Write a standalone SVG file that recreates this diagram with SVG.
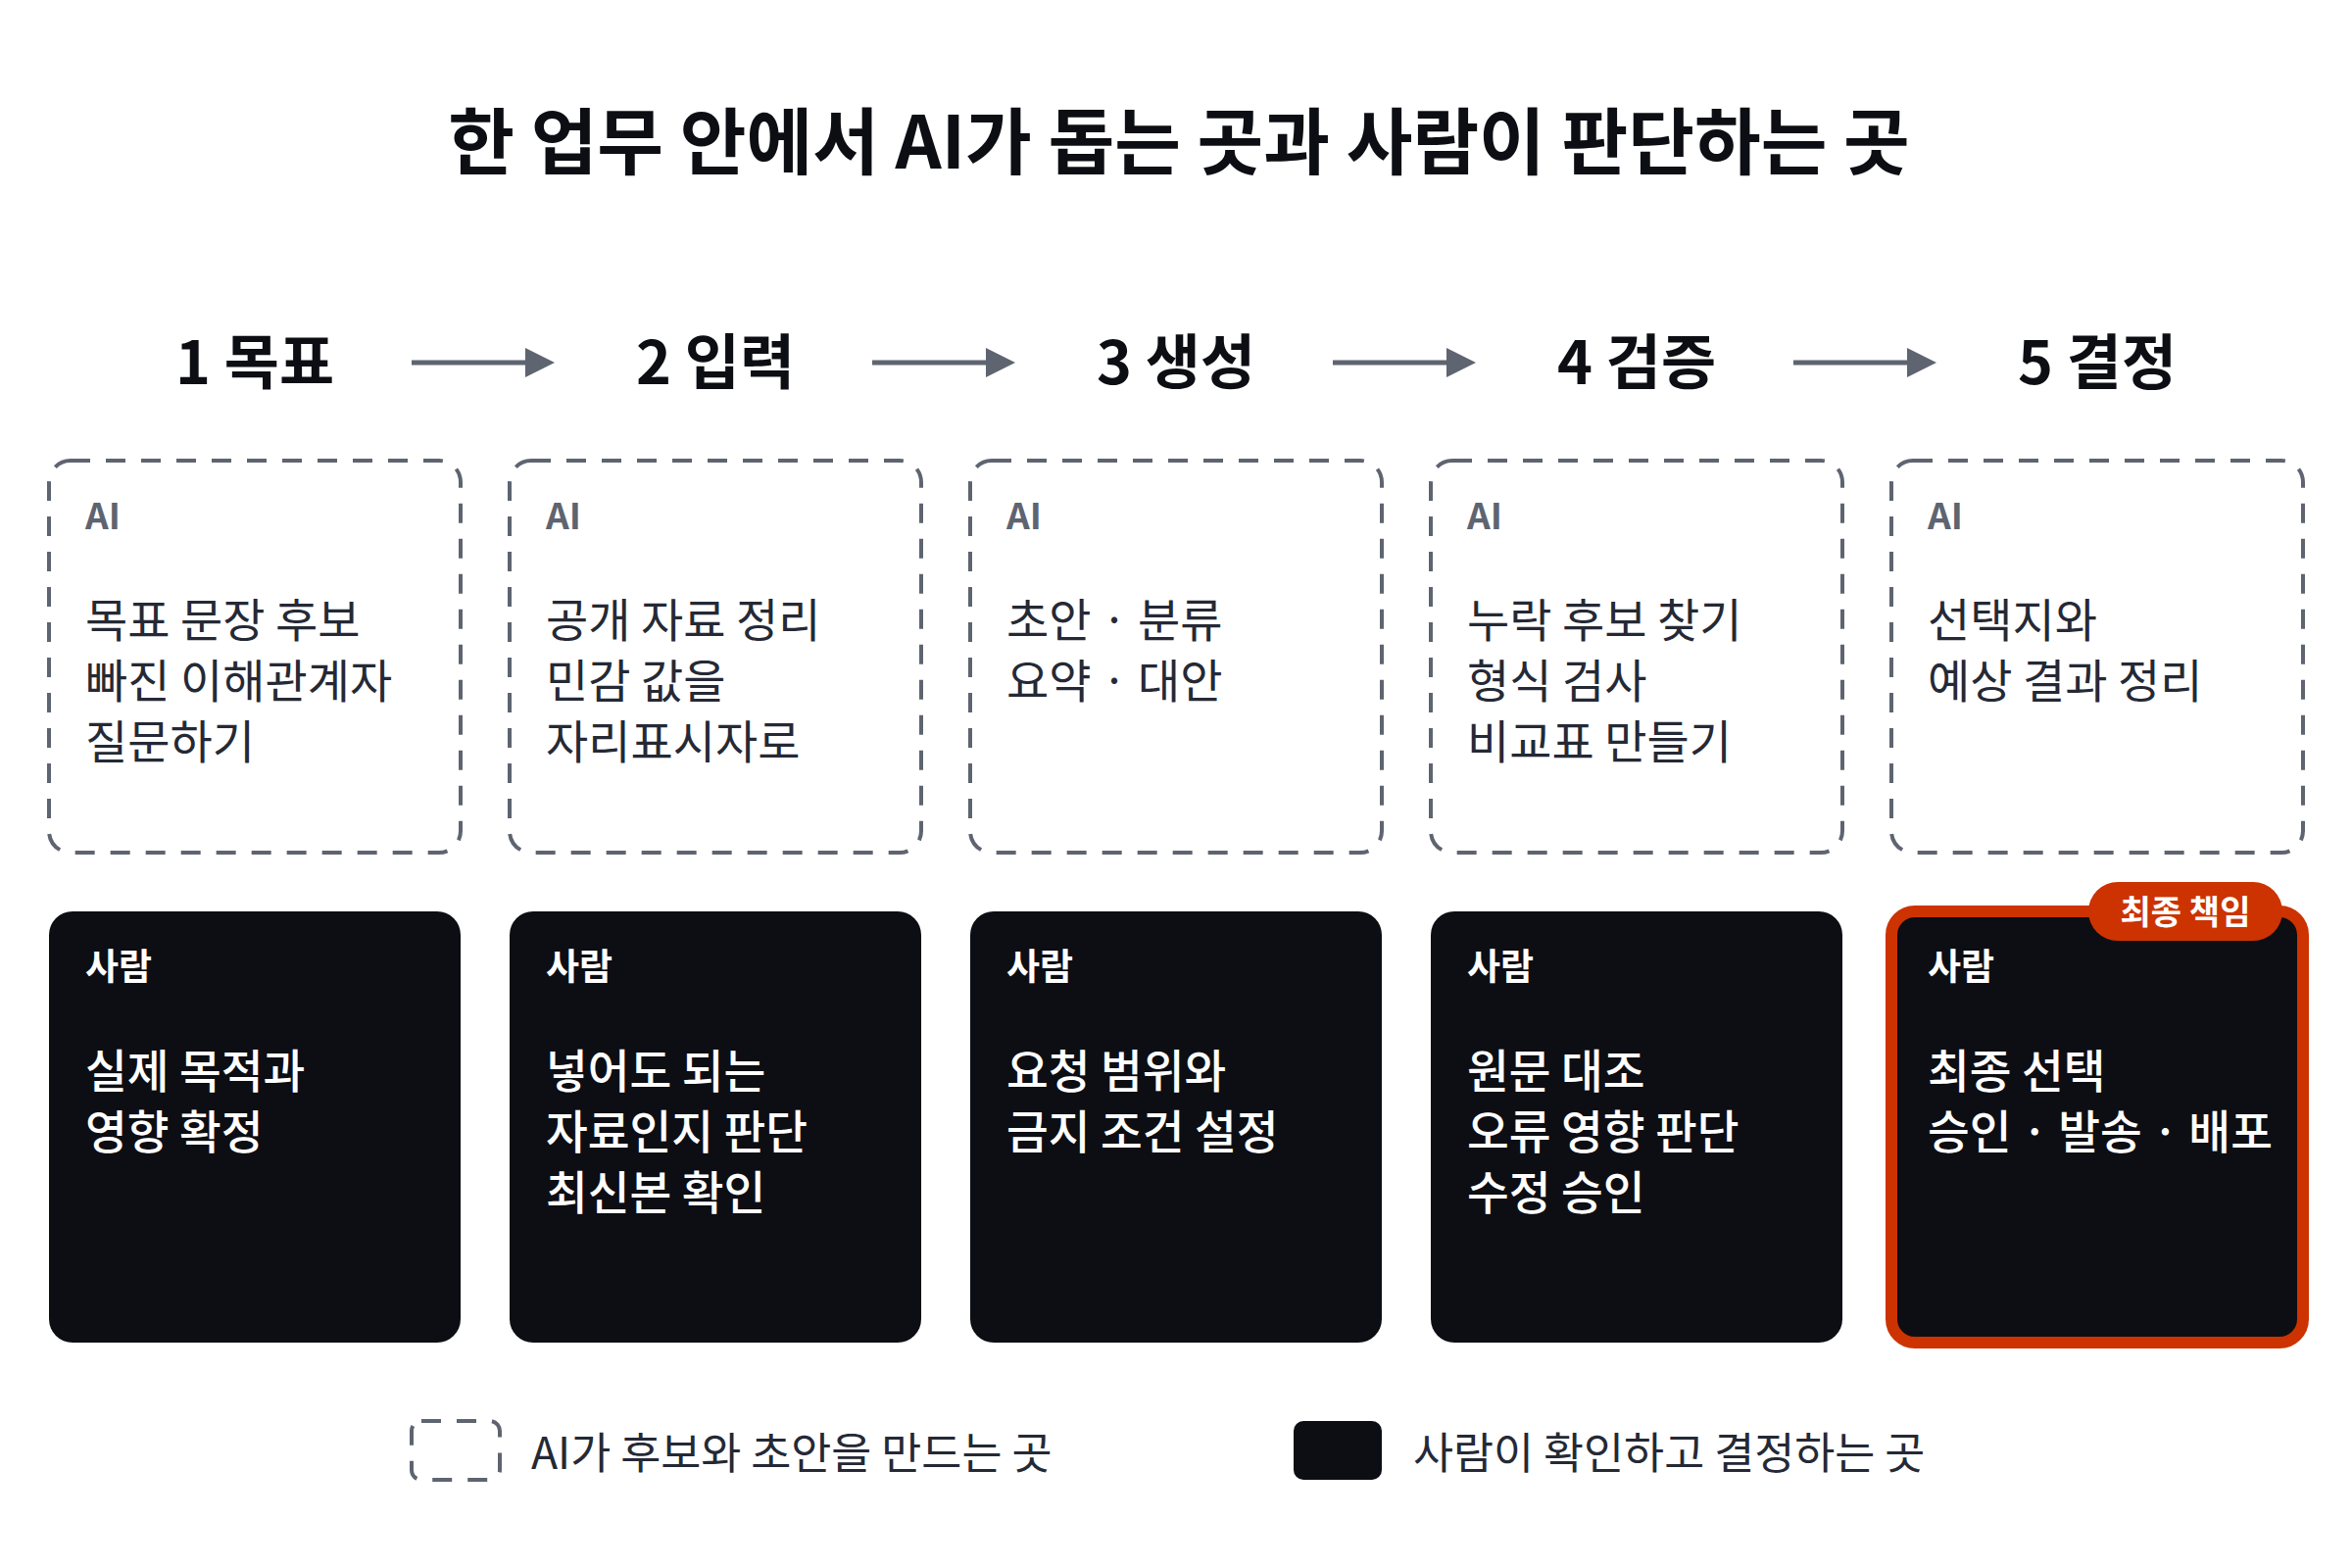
<svg xmlns="http://www.w3.org/2000/svg" width="2400" height="1600" viewBox="0 0 2400 1600">
<style>
text{font-family:"Noto Sans CJK KR","Noto Sans",sans-serif;}
.title{font-size:73.6px;font-weight:700;fill:#0D0E13;text-anchor:middle;}
.step{font-size:61px;font-weight:700;fill:#0D0E13;text-anchor:middle;}
.ai{fill:none;stroke:#5E6470;stroke-width:4;stroke-dasharray:20 16;}
.hum{fill:#0D0E13;}
.lab-ai{font-size:37px;font-weight:700;fill:#5E6470;}
.lab-h{font-size:37px;font-weight:700;fill:#FFFFFF;}
.body-ai{font-size:47px;font-weight:400;fill:#252935;}
.body-h{font-size:46.5px;font-weight:500;fill:#FFFFFF;}
.leg{font-size:44.6px;font-weight:400;fill:#252935;}
.conn{stroke:#5E6470;stroke-width:5;fill:none;}
</style>
<defs>
<marker id="ah" markerUnits="userSpaceOnUse" markerWidth="30" markerHeight="30" viewBox="0 0 30 30" refX="2" refY="15" orient="auto">
<path d="M0,0 L30,15 L0,30 Z" fill="#5E6470"/>
</marker>
</defs>
<rect width="2400" height="1600" fill="#FFFFFF"/>
<text class="title" x="1203" y="172">한 업무 안에서 AI가 돕는 곳과 사람이 판단하는 곳</text>

<g id="step-1"><text class="step" x="260" y="392">1 목표</text></g>
<g id="step-2"><text class="step" x="730" y="392">2 입력</text></g>
<g id="step-3"><text class="step" x="1200" y="392">3 생성</text></g>
<g id="step-4"><text class="step" x="1670" y="392">4 검증</text></g>
<g id="step-5"><text class="step" x="2140" y="392">5 결정</text></g>

<g id="connectors">
<line class="conn" x1="420" y1="370" x2="538" y2="370" marker-end="url(#ah)"/>
<line class="conn" x1="890" y1="370" x2="1008" y2="370" marker-end="url(#ah)"/>
<line class="conn" x1="1360" y1="370" x2="1478" y2="370" marker-end="url(#ah)"/>
<line class="conn" x1="1830" y1="370" x2="1948" y2="370" marker-end="url(#ah)"/>
</g>

<g id="ai-1">
<rect class="ai" x="50" y="470" width="420" height="400" rx="22"/>
<text class="lab-ai" x="87" y="540">AI</text>
<text class="body-ai" x="87" y="650"><tspan x="87" y="650">목표 문장 후보</tspan><tspan x="87" y="712">빠진 이해관계자</tspan><tspan x="87" y="774">질문하기</tspan></text>
</g>
<g id="ai-2">
<rect class="ai" x="520" y="470" width="420" height="400" rx="22"/>
<text class="lab-ai" x="557" y="540">AI</text>
<text class="body-ai" x="557" y="650"><tspan x="557" y="650">공개 자료 정리</tspan><tspan x="557" y="712">민감 값을</tspan><tspan x="557" y="774">자리표시자로</tspan></text>
</g>
<g id="ai-3">
<rect class="ai" x="990" y="470" width="420" height="400" rx="22"/>
<text class="lab-ai" x="1027" y="540">AI</text>
<text class="body-ai" x="1027" y="650"><tspan x="1027" y="650">초안 · 분류</tspan><tspan x="1027" y="712">요약 · 대안</tspan></text>
</g>
<g id="ai-4">
<rect class="ai" x="1460" y="470" width="420" height="400" rx="22"/>
<text class="lab-ai" x="1497" y="540">AI</text>
<text class="body-ai" x="1497" y="650"><tspan x="1497" y="650">누락 후보 찾기</tspan><tspan x="1497" y="712">형식 검사</tspan><tspan x="1497" y="774">비교표 만들기</tspan></text>
</g>
<g id="ai-5">
<rect class="ai" x="1930" y="470" width="420" height="400" rx="22"/>
<text class="lab-ai" x="1967" y="540">AI</text>
<text class="body-ai" x="1967" y="650"><tspan x="1967" y="650">선택지와</tspan><tspan x="1967" y="712">예상 결과 정리</tspan></text>
</g>

<g id="human-1">
<rect class="hum" x="50" y="930" width="420" height="440" rx="24"/>
<text class="lab-h" x="87" y="1000">사람</text>
<text class="body-h" x="87" y="1110"><tspan x="87" y="1110">실제 목적과</tspan><tspan x="87" y="1172">영향 확정</tspan></text>
</g>
<g id="human-2">
<rect class="hum" x="520" y="930" width="420" height="440" rx="24"/>
<text class="lab-h" x="557" y="1000">사람</text>
<text class="body-h" x="557" y="1110"><tspan x="557" y="1110">넣어도 되는</tspan><tspan x="557" y="1172">자료인지 판단</tspan><tspan x="557" y="1234">최신본 확인</tspan></text>
</g>
<g id="human-3">
<rect class="hum" x="990" y="930" width="420" height="440" rx="24"/>
<text class="lab-h" x="1027" y="1000">사람</text>
<text class="body-h" x="1027" y="1110"><tspan x="1027" y="1110">요청 범위와</tspan><tspan x="1027" y="1172">금지 조건 설정</tspan></text>
</g>
<g id="human-4">
<rect class="hum" x="1460" y="930" width="420" height="440" rx="24"/>
<text class="lab-h" x="1497" y="1000">사람</text>
<text class="body-h" x="1497" y="1110"><tspan x="1497" y="1110">원문 대조</tspan><tspan x="1497" y="1172">오류 영향 판단</tspan><tspan x="1497" y="1234">수정 승인</tspan></text>
</g>
<g id="human-5">
<rect class="hum" x="1930" y="930" width="420" height="440" rx="24" stroke="#CC3300" stroke-width="12"/>
<text class="lab-h" x="1967" y="1000">사람</text>
<text class="body-h" x="1967" y="1110"><tspan x="1967" y="1110">최종 선택</tspan><tspan x="1967" y="1172">승인 · 발송 · 배포</tspan></text>
<g id="badge">
<rect x="2131" y="900" width="198" height="60" rx="30" fill="#CC3300"/>
<text x="2230" y="943" font-size="34" font-weight="700" fill="#FFFFFF" text-anchor="middle">최종 책임</text>
</g>
</g>

<g id="legend">
<rect class="ai" x="420" y="1450" width="90" height="60" rx="10"/>
<text class="leg" x="542" y="1499">AI가 후보와 초안을 만드는 곳</text>
<rect class="hum" x="1320" y="1450" width="90" height="60" rx="10"/>
<text class="leg" x="1442" y="1499">사람이 확인하고 결정하는 곳</text>
</g>
</svg>
